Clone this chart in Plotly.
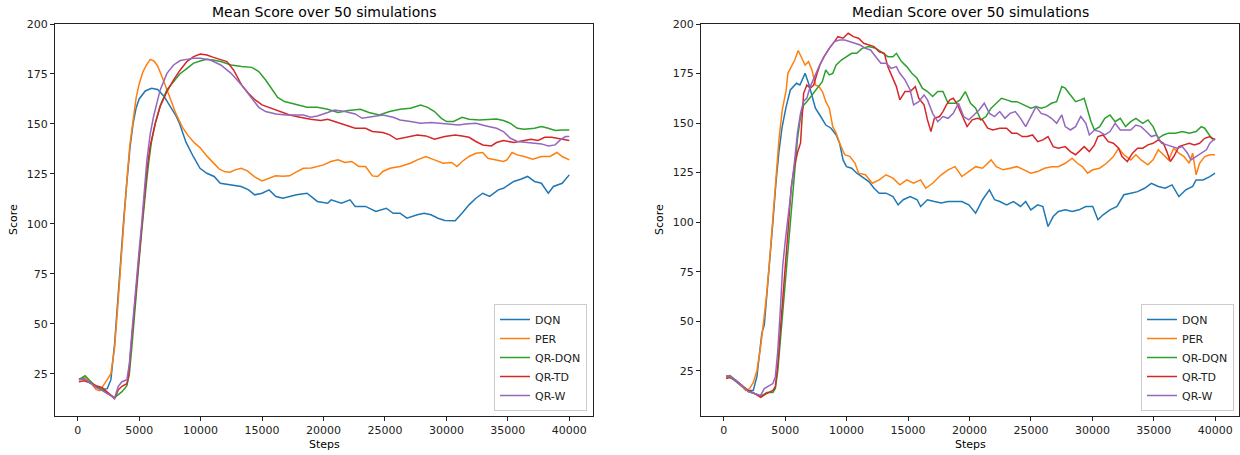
import plotly.graph_objects as go

# ---------------- data ----------------
SERIES_NAMES = ["DQN", "PER", "QR-DQN", "QR-TD", "QR-W"]
COLORS = ["#1f77b4", "#ff7f0e", "#2ca02c", "#d62728", "#9467bd"]
X_TICKS = [0, 5000, 10000, 15000, 20000, 25000, 30000, 35000, 40000]
Y_TICKS = [25, 50, 75, 100, 125, 150, 175, 200]

# ---- Mean score ----
mean_dqn_x = [100, 500, 1000, 1500, 2000, 2400, 2700, 3000, 3250, 3500, 3750, 4000, 4250, 4500, 4750, 5000, 5500, 6000,
              6500, 7000, 7500, 8000, 8300, 8800, 9400, 9950, 10500, 11100, 11600, 12500, 13300, 13900, 14400, 15000,
              15570, 16130, 16700, 17800, 18660, 19500, 20340, 20620, 21460, 22160, 22580, 23420, 24260, 25110, 25670,
              26230, 26790, 27630, 28190, 28750, 29310, 29870, 30710, 31270, 31840, 32400, 32960, 33520, 34220, 34640,
              35480, 36050, 36610, 37170, 37730, 38290, 38710, 39420, 40000]
mean_dqn_y = [22.3, 22.5, 20.3, 18.5, 17, 17.5, 22, 40, 62, 83, 103, 121, 138, 150, 158, 162.5, 166.5, 167.8,
              167.2, 164, 159, 154, 150, 141, 133.7, 127.8, 125.3, 123.7, 120.3, 119.5, 118.7, 117, 114.5, 115.3,
              117, 113.7, 112.8, 114.5, 115.3, 111.2, 110.3, 112, 110.3, 112, 108.7, 108.7, 106.2, 107.8, 105.3,
              105.3, 102.8, 104.5, 105.3, 104.5, 102.8, 101.7, 101.5, 105.3, 109.5, 112.8, 115.3, 113.7, 117, 117.8,
              121.2, 122.3, 123.7, 121.2, 120.3, 115.3, 118.7, 120.3, 124.5]

mean_per_x = [100, 500, 1000, 1500, 1800, 2100, 2400, 2700, 3000, 3250, 3500, 3750, 4000, 4250, 4500, 4750, 5000, 5300,
              5600, 5900, 6200, 6500, 6900, 7250, 7550, 8000, 8500, 9000, 9500, 10000, 10500, 11000, 11500, 12000,
              12400, 12800, 13300, 13800, 14400, 15000, 15500, 16100, 16700, 17250, 17800, 18370, 19000, 19500, 20000,
              20600, 21180, 21740, 22300, 22860, 23420, 23980, 24400, 24830, 25400, 26230, 27070, 27630, 28330, 29030,
              29730, 30440, 30860, 31280, 31840, 32400, 32960, 33380, 33800, 34640, 34920, 35350, 35770, 36330, 37030,
              37730, 38430, 38990, 39420, 40000]
mean_per_y = [22, 23.5, 21, 17, 16.5, 19, 22, 25, 38, 58, 80, 102, 122, 140, 153, 163, 170, 176,
              179.5, 182.3, 181.5, 179, 173, 167, 162, 155, 148.5, 144, 140.5, 137.8, 134, 130.5, 127.5, 126,
              125.8, 127, 127.8, 126.5, 123.5, 121.5, 122.5, 124, 123.8, 124, 126, 127.8, 128, 128.7, 129.5,
              131.2, 132, 130.7, 131.2, 128.7, 128.7, 124, 123.7, 126.2, 127.8, 128.7, 130.3, 132, 133.7, 132,
              130.3, 130.7, 128.7, 131.2, 133.7, 135.3, 135.7, 132.8, 132.3, 131.2, 132, 135.7, 134.5, 133.7, 132.3,
              133.7, 133.7, 135.7, 133.7, 132]

mean_qrdqn_x = [100, 600, 1000, 1500, 2000, 2500, 3000, 3300, 3600, 4000, 4200, 4400, 4600, 4800, 5000, 5200, 5400, 5600,
                5800, 6000, 6300, 6700, 7250, 7800, 8300, 8900, 9400, 9950, 10500, 11000, 11640, 12480, 13330, 14170,
                14730, 15290, 15850, 16270, 16830, 17810, 18660, 19500, 20340, 21180, 22020, 23000, 23700, 24540,
                25380, 26230, 27070, 27910, 28470, 29030, 29590, 30010, 30580, 31280, 31840, 32680, 33520, 34080,
                34640, 35210, 35770, 36330, 37170, 37730, 38290, 38850, 39420, 40000]
mean_qrdqn_y = [22, 24, 21.5, 18.5, 17, 15, 13, 14.5, 16, 19, 25, 38, 54, 68, 82, 96, 110, 121,
                132, 141, 150, 159, 167, 171.5, 175, 177.8, 180.3, 181.5, 182.3, 182, 181.2, 179.5, 178.7, 178.3,
                176.2, 172, 167, 163.3, 161.2, 159.5, 158.3, 158.3, 157.3, 155.7, 156.7, 157.3, 155.7, 154.5,
                156.2, 157.3, 157.8, 159.5, 158.3, 156.2, 152.8, 151.2, 151.2, 153.3, 152.3, 152, 152.3, 152.5,
                151.7, 150.3, 147.8, 147.3, 147.8, 148.7, 147.8, 146.7, 147, 147]

mean_qrtd_x = [100, 500, 1000, 1500, 2000, 2500, 3000, 3300, 3600, 4000, 4150, 4300, 4500, 4700, 4900, 5100, 5350, 5630,
               5900, 6310, 6710, 7260, 7800, 8340, 8880, 9430, 9970, 10510, 11050, 11640, 12140, 12680, 13330, 13890,
               14440, 15000, 15570, 16410, 17250, 18100, 18940, 19780, 20340, 20900, 21740, 22580, 23420, 23980,
               24830, 25390, 25950, 26790, 27630, 28330, 29030, 29870, 30710, 31280, 31840, 32400, 32960, 33660,
               34080, 34640, 35480, 36330, 36890, 37450, 38010, 38570, 39140, 40000]
mean_qrtd_y = [21, 21.5, 20.5, 19, 18, 15, 12.5, 17, 18.7, 20, 24, 36, 50, 63, 75, 90, 108, 127,
               139, 150.3, 158.7, 166.2, 172, 177, 181.2, 183.7, 185, 184.5, 183.3, 182.3, 181.2, 177, 169.5, 165.3,
               162, 159.5, 158.3, 156.2, 154.5, 153.3, 152.3, 151.7, 152.3, 151.2, 149.5, 147.8, 147.8, 146.2,
               145.7, 144.5, 142.3, 143.3, 144.5, 144, 142.3, 143.7, 144.5, 144, 143.3, 141.2, 139.5, 139,
               140.7, 141.7, 140.7, 141.7, 142.3, 141.7, 143.3, 143.3, 142.8, 141.7]

mean_qrw_x = [100, 500, 1000, 1500, 2000, 2500, 3000, 3300, 3600, 4000, 4200, 4400, 4600, 4800, 5000, 5200, 5400, 5630,
              5900, 6170, 6710, 7260, 7800, 8340, 8880, 9430, 9970, 10790, 11640, 12480, 13330, 14170, 14730, 15290,
              16130, 16970, 17810, 18370, 18940, 19500, 20340, 20900, 21740, 22580, 23140, 23980, 24830, 25670,
              26230, 27070, 27910, 28750, 29590, 30430, 31000, 31560, 32400, 33240, 34080, 34640, 35210, 35770,
              36330, 37170, 37730, 38290, 38850, 39270, 39690, 40000]
mean_qrw_y = [22, 22.5, 20.5, 18, 16.5, 14.5, 12.8, 18.7, 21, 22, 30, 45, 60, 74, 87, 100, 113, 132,
              145, 153.7, 167, 175.3, 179.5, 181.7, 182.3, 182.8, 182.8, 182, 179.5, 175.3, 169.5, 162.8, 158.3, 156.2,
              155, 154.5, 154.5, 154.5, 153.3, 154, 155.7, 157, 156.2, 155, 152.8, 153.7, 154.5, 153.3,
              152, 151.2, 150.3, 150.7, 150.3, 150, 149.5, 150, 150.3, 149, 147.8, 146.2, 142.8, 141.2,
              140.7, 140.3, 140, 139, 139.5, 142, 143.7, 143.7]

# ---- Median score ----
med_dqn_x = [200, 500, 1000, 1500, 2000, 2400, 2700, 2900, 3100, 3300, 3500, 3750, 4000, 4250, 4500, 4750, 5080, 5420,
             5920, 6200, 6480, 6620, 6900, 7180, 7460, 7890, 8310, 8730, 9150, 9430, 9710, 9990, 10410, 10830, 11250,
             11810, 12230, 12650, 13210, 13770, 14190, 14610, 15170, 15740, 16020, 16580, 17140, 17700, 18260, 18820,
             19380, 19940, 20500, 21060, 21620, 22040, 22460, 23020, 23580, 24150, 24570, 24990, 25550, 25970, 26390,
             26810, 27230, 27790, 28350, 28910, 29470, 30030, 30450, 30870, 31430, 32000, 32560, 33120, 33680, 34240,
             34800, 35360, 35920, 36480, 37040, 37600, 38160, 38440, 39000, 39560, 39980]
med_dqn_y = [22.5, 22, 19.5, 17, 15, 15, 22, 32, 44, 48, 62, 82, 100, 120, 136, 148, 158.3, 166.7,
             170.1, 169.2, 172.6, 175.1, 170.1, 164.2, 157.5, 153.3, 149, 147.4, 144, 139.8, 131.4, 128, 127.2, 124.7, 123,
             120.5, 117.1, 114.6, 114.6, 112.9, 108.7, 111.3, 112.9, 111.3, 107.9, 111.3, 110.4, 109.6, 110.4, 110.4,
             110.4, 108.7, 104.5, 111.3, 116.3, 111.3, 110.4, 108.7, 110.4, 107.9, 110.4, 106.2, 108.7, 107.9, 97.8,
             102.8, 105.4, 106.2, 105.4, 106.2, 107.9, 107.9, 101.2, 103.7, 106.2, 107.9, 113.8, 114.6, 115.4, 117.1,
             119.6, 118, 117.1, 118.8, 112.9, 116.3, 118, 121.3, 121.3, 123, 124.7]

med_per_x = [200, 500, 1000, 1500, 1800, 2100, 2400, 2700, 3000, 3250, 3500, 3750, 4000, 4250, 4500, 4760, 5080, 5220,
             5500, 5780, 6060, 6340, 6620, 6900, 7180, 7460, 7750, 8030, 8310, 8590, 8870, 9150, 9430, 9850, 10270,
             10690, 10970, 11530, 12090, 12650, 13210, 13770, 14330, 14890, 15450, 16020, 16440, 17000, 17700, 18260,
             18820, 19380, 19940, 20500, 21060, 21760, 22180, 22740, 23300, 23860, 24430, 24990, 25550, 26110, 26670,
             27230, 27790, 28350, 28770, 29190, 29610, 30030, 30590, 31150, 31710, 32130, 32560, 33120, 33540, 33960,
             34520, 34940, 35360, 35780, 36200, 36620, 37040, 37460, 37880, 38160, 38440, 38720, 39140, 39560, 39980]
med_per_y = [22, 22.5, 20, 17, 15, 16, 19, 25, 37, 50, 64, 82, 101, 122, 142, 156.5, 166.6, 175.1,
             178.5, 181.8, 186.6, 182.7, 179.3, 181, 176.8, 169.2, 168.4, 165.9, 160.8, 157.5, 148.2, 144.9, 139.8, 134, 133.1,
             129.7, 124.7, 123.9, 119.6, 121.3, 123.9, 122.2, 118.8, 121.3, 119.6, 121.3, 117.1, 119.6, 123.9, 126.4,
             128, 123, 125.5, 128, 127.2, 131.4, 128, 126.4, 127.2, 128, 126.4, 124.7, 125.5, 127.2, 128,
             128, 129.7, 132.3, 129.7, 128, 124.7, 126.4, 127.2, 129.7, 133.1, 137.3, 134, 131.4, 134, 131.4,
             128.9, 131.4, 136.5, 134, 131.4, 137.3, 134.8, 133.1, 129.7, 134.8, 123.9, 129.7, 133.1, 134, 134]

med_qrdqn_x = [200, 500, 1000, 1500, 2000, 2500, 3000, 3500, 4000, 4200, 4400, 4600, 4800, 5000, 5250, 5500, 5750, 6000,
               6250, 6500, 6760, 7180, 7600, 8020, 8300, 8590, 8870, 9150, 9570, 9990, 10410, 10830, 11250, 11810,
               12370, 12790, 13350, 13770, 14050, 14470, 14890, 15310, 15730, 16160, 16580, 17000, 17420, 17840, 18260,
               18820, 19240, 19660, 20080, 20500, 20920, 21340, 21760, 22180, 22600, 23020, 23440, 23860, 24430, 24990,
               25410, 25830, 26250, 26670, 27090, 27510, 27790, 28210, 28630, 29050, 29330, 29610, 29890, 30170, 30590,
               31010, 31430, 31850, 32270, 32700, 33120, 33540, 34100, 34520, 34940, 35360, 35780, 36200, 36760, 37320,
               37880, 38440, 38860, 39140, 39420, 39700, 39980]
med_qrdqn_y = [21.5, 22.5, 20, 17.5, 14.5, 13.5, 12, 14, 14, 16, 25, 40, 55, 70, 88, 107, 125, 142,
               153, 159, 160.8, 164.2, 167.6, 170.9, 176.8, 174.3, 175.1, 179.3, 181.8, 183.5, 185.2, 185.2, 187.7, 188.6,
               187.7, 186, 183.5, 183.5, 185.2, 181, 178.5, 175.1, 172.6, 167.6, 165.9, 163.4, 165.9, 165.9, 160,
               160, 161.7, 165.9, 160, 157.5, 151.6, 153.3, 157.5, 160, 162.5, 161.7, 160.8, 160.8, 159.2, 157.5,
               158.3, 157.5, 158.3, 160, 160.8, 168.4, 167.6, 164.2, 160.8, 161.7, 162.5, 156.6, 150.7, 146.5, 148.2,
               152.4, 154.1, 150.7, 152.4, 148.2, 150.7, 152.4, 149.9, 151.6, 148.2, 142.3, 144, 144.9, 144.9, 145.7,
               144.9, 145.7, 148.2, 147.4, 144.9, 142.3, 141.5]

med_qrtd_x = [200, 500, 1000, 1500, 2000, 2500, 3000, 3500, 4000, 4200, 4400, 4600, 4800, 5000, 5250, 5500, 5750, 6000,
              6250, 6500, 6760, 7040, 7320, 7600, 7880, 8160, 8590, 9010, 9290, 9710, 10130, 10550, 10970, 11390, 11810,
              12230, 12650, 13070, 13350, 13630, 14050, 14330, 14750, 15170, 15590, 15870, 16300, 16580, 16860, 17140,
              17560, 17840, 18120, 18400, 18680, 18960, 19380, 19800, 20220, 20640, 21060, 21480, 21900, 22460, 23020,
              23440, 23860, 24290, 24710, 25130, 25550, 25970, 26390, 26810, 27230, 27790, 28210, 28630, 28910, 29330,
              29750, 30170, 30450, 30870, 31290, 31710, 32130, 32410, 32840, 33260, 33680, 34100, 34520, 34940, 35360,
              35780, 36060, 36340, 36620, 37040, 37460, 37880, 38300, 38720, 39140, 39560, 39980]
med_qrtd_y = [21, 21.5, 20, 17.5, 15, 13.5, 11.5, 13.5, 15, 17, 28, 45, 60, 75, 97, 118, 128, 135,
              140, 165, 169.2, 167.6, 169.2, 175.1, 180.2, 183.5, 187.7, 191.1, 193.6, 192.8, 195.3, 193.6, 192.8, 190.3, 189.4,
              188.6, 186, 185.2, 178.5, 174.3, 168.4, 161.7, 165.9, 165.9, 168.4, 162.5, 159.2, 151.6, 145.7, 152.4,
              153.3, 155.8, 159.2, 161.7, 162.5, 160, 154.1, 148.2, 151.6, 152.4, 151.6, 147.4, 146.5, 147.4, 147.4,
              144.9, 144.9, 143.2, 143.2, 144, 140.6, 141.5, 143.2, 138.1, 137.3, 138.1, 135.6, 134, 135.6, 138.1,
              135.6, 139, 143.2, 144, 140.6, 139.8, 137.3, 133.1, 130.6, 134.8, 137.3, 137.3, 139, 139.8, 141.5,
              139.8, 135.6, 130.6, 133.1, 138.1, 139, 139.8, 139, 139.8, 142.3, 143.2, 141.5]

med_qrw_x = [200, 500, 1000, 1500, 2000, 2500, 3000, 3300, 3600, 4000, 4200, 4400, 4600, 4800, 5000, 5250, 5500, 5750,
             6000, 6250, 6500, 6760, 7040, 7320, 7750, 8170, 8590, 9010, 9430, 9850, 10270, 10690, 11110, 11530, 11950,
             12370, 12790, 13210, 13630, 14050, 14330, 14750, 15170, 15450, 15870, 16300, 16580, 17000, 17420, 17840,
             18260, 18680, 19100, 19520, 19940, 20360, 20780, 21200, 21620, 22040, 22460, 22880, 23300, 23720, 24150,
             24570, 24990, 25410, 25830, 26250, 26670, 27090, 27510, 27790, 28210, 28630, 29050, 29470, 29750, 30170,
             30590, 31010, 31430, 31850, 32270, 32700, 33120, 33540, 33960, 34380, 34800, 35220, 35640, 36060, 36480,
             36900, 37320, 37740, 38020, 38440, 38860, 39280, 39560, 39980]
med_qrw_y = [22.5, 22, 20, 17, 14.5, 13.5, 12.5, 16, 17, 18.5, 22, 35, 55, 78, 90, 103, 115, 130,
             145, 155, 161, 162.5, 168.4, 172.6, 178.5, 183.5, 187.7, 191.1, 191.9, 191.9, 191.1, 190.3, 189.4, 187.7, 186.9,
             183.5, 180.2, 180.2, 177.6, 178.5, 175.1, 171.8, 166.7, 159.2, 160.8, 164.2, 161.7, 154.9, 150.7, 153.3,
             152.4, 154.9, 160, 153.3, 151.6, 154.1, 156.6, 160, 154.9, 153.3, 155.8, 152.4, 154.9, 155.8, 152.4,
             148.2, 153.3, 158.3, 154.9, 154.1, 152.4, 149.9, 154.1, 148.2, 146.5, 148.2, 153.3, 149.9, 144, 146.5,
             145.7, 144, 145.7, 149.9, 146.5, 146.5, 146.5, 149, 148.2, 145.7, 143.2, 144, 139.8, 139, 138.1,
             137.3, 138.1, 134.8, 131.4, 133.1, 134.8, 136.5, 139.8, 142.3]

MEAN_X = [mean_dqn_x, mean_per_x, mean_qrdqn_x, mean_qrtd_x, mean_qrw_x]
MEAN_Y = [mean_dqn_y, mean_per_y, mean_qrdqn_y, mean_qrtd_y, mean_qrw_y]
MED_X = [med_dqn_x, med_per_x, med_qrdqn_x, med_qrtd_x, med_qrw_x]
MED_Y = [med_dqn_y, med_per_y, med_qrdqn_y, med_qrtd_y, med_qrw_y]

TITLES = ["Mean Score over 50 simulations", "Median Score over 50 simulations"]

# ---------------- figure ----------------
W, H = 1240, 455
FONT = "DejaVu Sans"
fig = go.Figure()

for i, name in enumerate(SERIES_NAMES):
    fig.add_trace(go.Scatter(x=MEAN_X[i], y=MEAN_Y[i], mode="lines", name=name,
                             line=dict(color=COLORS[i], width=1.5),
                             xaxis="x", yaxis="y", legend="legend"))
for i, name in enumerate(SERIES_NAMES):
    fig.add_trace(go.Scatter(x=MED_X[i], y=MED_Y[i], mode="lines", name=name,
                             line=dict(color=COLORS[i], width=1.5),
                             xaxis="x2", yaxis="y2", legend="legend2"))

axis_common = dict(showgrid=False, zeroline=False, showline=True, linecolor="#222222", linewidth=1,
                   mirror=True, ticks="outside", ticklen=4, tickwidth=1, tickcolor="#222222",
                   tickfont=dict(family=FONT, size=11, color="#222222"))

xr = [-1850, 41930]
fig.update_layout(
    width=W, height=H,
    margin=dict(l=0, r=0, t=24, b=39),
    paper_bgcolor="white", plot_bgcolor="white",
    font=dict(family=FONT, size=11, color="#222222"),
    xaxis=dict(domain=[55 / W, 593 / W], range=xr, tickvals=X_TICKS, tickformat="d", anchor="y", **axis_common),
    yaxis=dict(domain=[0, 1], range=[3.83, 200], tickvals=Y_TICKS, anchor="x", **axis_common),
    xaxis2=dict(domain=[701 / W, 1239 / W], range=xr, tickvals=X_TICKS, tickformat="d", anchor="y2", **axis_common),
    yaxis2=dict(domain=[0, 1], range=[2.14, 200], tickvals=Y_TICKS, anchor="x2", **axis_common),
    legend=dict(x=587 / W, xanchor="right", y=5 / 392, yanchor="bottom",
                bgcolor="rgba(255,255,255,0.85)", bordercolor="#cccccc", borderwidth=1,
                font=dict(family=FONT, size=11, color="#222222")),
    legend2=dict(x=1234 / W, xanchor="right", y=5 / 392, yanchor="bottom",
                 bgcolor="rgba(255,255,255,0.85)", bordercolor="#cccccc", borderwidth=1,
                 font=dict(family=FONT, size=11, color="#222222")),
    showlegend=True,
)

for k, (xa, ya) in enumerate([("x", "y"), ("x2", "y2")]):
    fig.add_annotation(text=TITLES[k], xref=f"{xa} domain", yref=f"{ya} domain", x=0.5, y=1,
                       xanchor="center", yanchor="bottom", yshift=2, showarrow=False,
                       font=dict(family=FONT, size=14, color="#000000"))
    fig.add_annotation(text="Steps", xref=f"{xa} domain", yref=f"{ya} domain", x=0.5, y=0,
                       xanchor="center", yanchor="top", yshift=-20, showarrow=False,
                       font=dict(family=FONT, size=11, color="#000000"))
    fig.add_annotation(text="Score", xref=f"{xa} domain", yref=f"{ya} domain", x=0, y=0.5,
                       xanchor="center", yanchor="middle", xshift=-42, textangle=-90, showarrow=False,
                       font=dict(family=FONT, size=11, color="#000000"))

fig.write_html("out.html")
